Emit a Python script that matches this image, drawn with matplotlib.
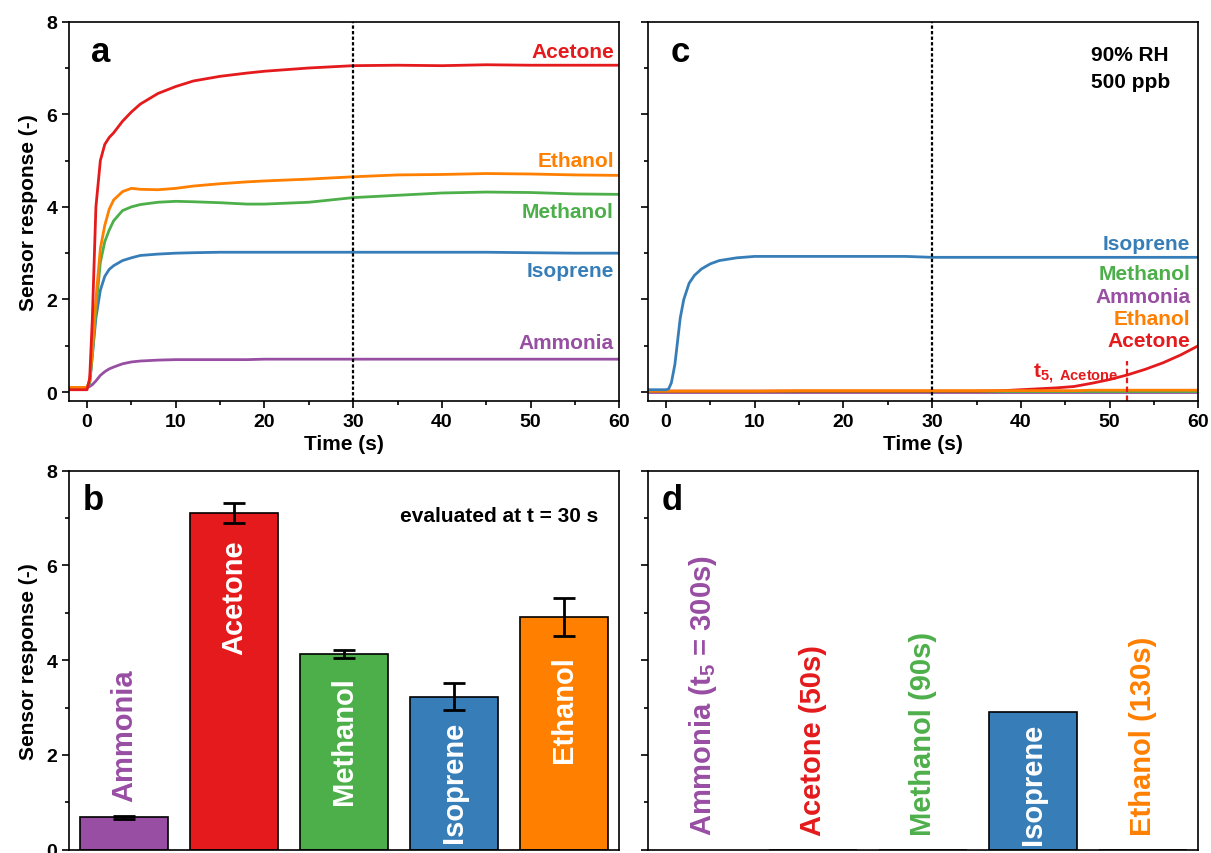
import numpy as np
import matplotlib
matplotlib.use("Agg")
import matplotlib.pyplot as plt
from matplotlib.ticker import MultipleLocator, NullFormatter

plt.rcParams["font.family"] = ["Liberation Sans", "DejaVu Sans"]
plt.rcParams["font.weight"] = "bold"
plt.rcParams["axes.labelweight"] = "bold"
plt.rcParams["mathtext.fontset"] = "custom"
plt.rcParams["mathtext.rm"] = "Liberation Sans:bold"
plt.rcParams["mathtext.it"] = "Liberation Sans:bold"
plt.rcParams["mathtext.bf"] = "Liberation Sans:bold"
plt.rcParams["mathtext.default"] = "rm"

# ---- colours ----
C_ACE = "#E41A1C"
C_ETH = "#FF7F00"
C_MET = "#4DAF4A"
C_ISO = "#377EB8"
C_AMM = "#984EA3"

# ---- (a) transient responses, dry/standard conditions ----
t_a = [-2, 0, 0.3, 0.6, 1.0, 1.5, 2.0, 2.5, 3, 4, 5, 6, 8, 10, 12, 15, 18,
       20, 25, 30, 35, 40, 45, 50, 55, 60]
acetone_a = [0.05, 0.05, 0.3, 1.6, 4.0, 5.0, 5.35, 5.5, 5.6, 5.85, 6.05, 6.22,
             6.45, 6.6, 6.72, 6.82, 6.89, 6.93, 7.0, 7.05, 7.06, 7.05, 7.07,
             7.06, 7.06, 7.06]
ethanol_a = [0.1, 0.1, 0.25, 0.9, 2.0, 3.1, 3.6, 3.95, 4.15, 4.33, 4.4, 4.38,
             4.37, 4.4, 4.45, 4.5, 4.54, 4.56, 4.6, 4.65, 4.69, 4.7, 4.72,
             4.71, 4.69, 4.68]
methanol_a = [0.1, 0.1, 0.2, 0.8, 1.8, 2.8, 3.25, 3.5, 3.7, 3.92, 4.0, 4.05,
              4.1, 4.12, 4.11, 4.09, 4.06, 4.06, 4.1, 4.2, 4.25, 4.3, 4.32,
              4.31, 4.28, 4.27]
isoprene_a = [0.1, 0.1, 0.2, 0.8, 1.6, 2.2, 2.5, 2.65, 2.73, 2.84, 2.9, 2.95,
              2.98, 3.0, 3.01, 3.02, 3.02, 3.02, 3.02, 3.02, 3.02, 3.02, 3.02,
              3.01, 3.0, 3.0]
ammonia_a = [0.1, 0.1, 0.12, 0.16, 0.24, 0.36, 0.44, 0.5, 0.54, 0.61, 0.65,
             0.67, 0.69, 0.7, 0.7, 0.7, 0.7, 0.71, 0.71, 0.71, 0.71, 0.71,
             0.71, 0.71, 0.71, 0.71]

# ---- (c) transient responses at 90% RH, 500 ppb ----
t_c = [-2, 0, 0.3, 0.6, 1.0, 1.3, 1.6, 2.0, 2.6, 3.2, 4, 5, 6, 8, 10, 15, 20,
       27, 30, 35, 38, 40, 42, 44, 46, 48, 50, 52, 54, 56, 58, 60]
isoprene_c = [0.05, 0.05, 0.07, 0.2, 0.6, 1.1, 1.6, 2.0, 2.35, 2.52, 2.66,
              2.77, 2.84, 2.9, 2.93, 2.93, 2.93, 2.93, 2.91, 2.91, 2.91, 2.91,
              2.91, 2.91, 2.91, 2.91, 2.91, 2.91, 2.91, 2.91, 2.91, 2.91]
acetone_c = [0.02, 0.02, 0.02, 0.02, 0.02, 0.02, 0.02, 0.02, 0.02, 0.02, 0.02,
             0.02, 0.02, 0.02, 0.02, 0.02, 0.02, 0.02, 0.02, 0.02, 0.03, 0.05,
             0.07, 0.09, 0.12, 0.19, 0.27, 0.37, 0.49, 0.63, 0.8, 1.0]
ethanol_c = [0.02, 0.02, 0.02, 0.02, 0.02, 0.02, 0.02, 0.02, 0.02, 0.02, 0.02,
             0.02, 0.02, 0.02, 0.02, 0.03, 0.03, 0.03, 0.03, 0.03, 0.03, 0.03,
             0.03, 0.03, 0.03, 0.04, 0.04, 0.04, 0.04, 0.04, 0.04, 0.04]
methanol_c = [0.02] * len(t_c)
ammonia_c = [0.0] * len(t_c)
t5_acetone = 52

# ---- (b) responses evaluated at t = 30 s ----
analytes = ["Ammonia", "Acetone", "Methanol", "Isoprene", "Ethanol"]
colors = [C_AMM, C_ACE, C_MET, C_ISO, C_ETH]
resp_b = [0.685, 7.1, 4.13, 3.23, 4.91]
err_b = [0.03, 0.21, 0.08, 0.28, 0.40]

# ---- (d) responses at 90% RH (t5 in brackets) ----
resp_d = [np.nan, 0.0, 0.0, 2.91, 0.0]
labels_d = [r"Ammonia (t$_5$ = 300s)", "Acetone (50s)", "Methanol (90s)",
            "Isoprene", "Ethanol (130s)"]

FS_TICK = 14
FS_LAB = 15
FS_LET = 25
FS_BAR = 21

W, H = 1211, 854
fig = plt.figure(figsize=(W / 100, H / 100), dpi=100)


def box(x0, x1, y0, y1):
    return [x0 / W, 1 - y1 / H, (x1 - x0) / W, (y1 - y0) / H]


ax_a = fig.add_axes(box(69.3, 619.3, 22.7, 402.3))
ax_c = fig.add_axes(box(648.3, 1198.3, 22.7, 402.3))
ax_b = fig.add_axes(box(69.3, 619.3, 471.7, 850.7))
ax_d = fig.add_axes(box(648.3, 1198.3, 471.7, 850.7))

for ax in (ax_a, ax_b, ax_c, ax_d):
    for sp in ax.spines.values():
        sp.set_linewidth(1.2)
    ax.tick_params(which="major", direction="out", length=5, width=1.2,
                   labelsize=FS_TICK)
    ax.tick_params(which="minor", direction="out", length=3, width=1.2)
    ax.tick_params(top=False, right=False, which="both")
    ax.set_ylim(0, 8)
    ax.yaxis.set_major_locator(MultipleLocator(2))
    ax.yaxis.set_minor_locator(MultipleLocator(1))
    for lab in ax.get_xticklabels() + ax.get_yticklabels():
        lab.set_fontweight("bold")

# time panels
for ax in (ax_a, ax_c):
    ax.set_xlim(-2, 60)
    ax.set_ylim(-0.2, 8)
    ax.xaxis.set_major_locator(MultipleLocator(10))
    ax.xaxis.set_minor_locator(MultipleLocator(5))
    ax.set_xlabel("Time (s)", fontsize=FS_LAB, fontweight="bold", labelpad=3)
    ax.axvline(30, color="black", ls=(0, (1.5, 1)), lw=1.6, zorder=5)

lw = 2.0
ax_a.plot(t_a, ammonia_a, color=C_AMM, lw=lw)
ax_a.plot(t_a, isoprene_a, color=C_ISO, lw=lw)
ax_a.plot(t_a, methanol_a, color=C_MET, lw=lw)
ax_a.plot(t_a, ethanol_a, color=C_ETH, lw=lw)
ax_a.plot(t_a, acetone_a, color=C_ACE, lw=lw)
ax_a.set_ylabel("Sensor response (-)", fontsize=FS_LAB, fontweight="bold",
                labelpad=6)

for txt, y, c in [("Acetone", 7.35, C_ACE), ("Ethanol", 5.0, C_ETH),
                  ("Methanol", 3.9, C_MET), ("Isoprene", 2.62, C_ISO),
                  ("Ammonia", 1.07, C_AMM)]:
    ax_a.text(59.4, y, txt, color=c, fontsize=FS_LAB, fontweight="bold",
              ha="right", va="center")
ax_a.text(0.5, 7.35, "a", fontsize=FS_LET, fontweight="bold", va="center")

ax_c.plot(t_c, ammonia_c, color=C_AMM, lw=lw)
ax_c.plot(t_c, methanol_c, color=C_MET, lw=lw)
ax_c.plot(t_c, acetone_c, color=C_ACE, lw=lw)
ax_c.plot(t_c, ethanol_c, color=C_ETH, lw=lw)
ax_c.plot(t_c, isoprene_c, color=C_ISO, lw=lw)
ax_c.set_yticklabels([])
ax_c.yaxis.set_minor_formatter(NullFormatter())
ax_c.vlines(t5_acetone, -0.2, 0.68, colors=C_ACE, linestyles=(0, (2.5, 1.5)),
            lw=1.6)
ax_c.text(t5_acetone - 1.0, 0.42, r"$t_{5,\ Acetone}$", color=C_ACE,
          fontsize=FS_LAB, ha="right", va="center")
for txt, y, c in [("Isoprene", 3.2, C_ISO), ("Methanol", 2.55, C_MET),
                  ("Ammonia", 2.07, C_AMM), ("Ethanol", 1.58, C_ETH),
                  ("Acetone", 1.11, C_ACE)]:
    ax_c.text(59.1, y, txt, color=c, fontsize=FS_LAB, fontweight="bold",
              ha="right", va="center")
ax_c.text(0.5, 7.35, "c", fontsize=FS_LET, fontweight="bold", va="center")
ax_c.text(47.9, 7.3, "90% RH", fontsize=FS_LAB, fontweight="bold",
          va="center")
ax_c.text(47.9, 6.7, "500 ppb", fontsize=FS_LAB, fontweight="bold",
          va="center")

# bar panels
pos = np.arange(1, len(analytes) + 1)
for ax in (ax_b, ax_d):
    ax.set_xlim(0.5, 5.5)
    ax.set_xticks([])
    ax.tick_params(axis="x", which="both", bottom=False, labelbottom=False)

ax_b.bar(pos, resp_b, width=0.8, color=colors, edgecolor="black", lw=1.2,
         zorder=2)
ax_b.errorbar(pos, resp_b, yerr=err_b, fmt="none", ecolor="black",
              elinewidth=2, capsize=8, capthick=2, zorder=3)
ax_b.set_ylabel("Sensor response (-)", fontsize=FS_LAB, fontweight="bold",
                labelpad=6)
# gap between the lower error bar and the top of each in-bar name
name_gap = [0.35, 0.33, 0.39, 0.23, 0.41]
for i, (name, v, e) in enumerate(zip(analytes, resp_b, err_b)):
    if i == 0:
        ax_b.text(pos[i], v + name_gap[i], name, color=colors[i],
                  fontsize=FS_BAR, fontweight="bold", rotation=90,
                  ha="center", va="bottom")
    else:
        ax_b.text(pos[i], v - e - name_gap[i], name, color="white",
                  fontsize=FS_BAR, fontweight="bold", rotation=90,
                  ha="center", va="top")
ax_b.text(0.62, 7.4, "b", fontsize=FS_LET, fontweight="bold", va="center")
ax_b.text(5.31, 7.05, "evaluated at t = 30 s", fontsize=FS_LAB,
          fontweight="bold", ha="right", va="center")

ax_d.bar(pos, resp_d, width=0.8, color=colors, edgecolor="black", lw=1.2,
         zorder=2)
ax_d.set_yticklabels([])
for i, txt in enumerate(labels_d):
    if np.isfinite(resp_d[i]) and resp_d[i] > 1:
        ax_d.text(pos[i], resp_d[i] - 0.22, txt, color="white",
                  fontsize=FS_BAR, fontweight="bold", rotation=90,
                  ha="center", va="top")
    else:
        ax_d.text(pos[i], 0.3, txt, color=colors[i], fontsize=FS_BAR,
                  fontweight="bold", rotation=90, ha="center", va="bottom")
ax_d.text(0.62, 7.4, "d", fontsize=FS_LET, fontweight="bold", va="center")

fig.savefig("out.png", dpi=100)
